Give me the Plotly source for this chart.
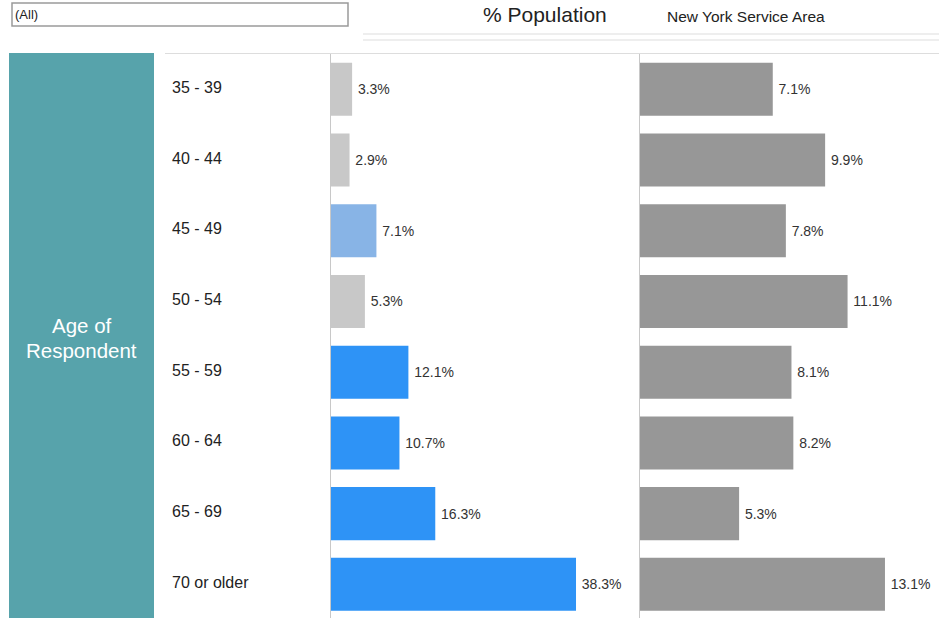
import plotly.graph_objects as go

categories = ["35 - 39", "40 - 44", "45 - 49", "50 - 54", "55 - 59", "60 - 64", "65 - 69", "70 or older"]
selected_pct = [3.3, 2.9, 7.1, 5.3, 12.1, 10.7, 16.3, 38.3]
selected_colors = ["#C8C8C8", "#C8C8C8", "#88B4E6", "#C8C8C8", "#2E93F6", "#2E93F6", "#2E93F6", "#2E93F6"]
area_pct = [7.1, 9.9, 7.8, 11.1, 8.1, 8.2, 5.3, 13.1]
area_color = "#979797"

W, H = 939, 618
FONT = "Liberation Sans, Arial, sans-serif"

def px(x):
    return x / W

def py(y):
    return 1 - y / H

fig = go.Figure()
fig.add_trace(go.Bar(
    y=categories, x=selected_pct, orientation="h",
    marker=dict(color=selected_colors, line=dict(width=0)),
    width=0.75,
    text=[f"\u2009{v:.1f}%" for v in selected_pct], textposition="outside",
    textfont=dict(size=14, color="#333333", family=FONT),
    cliponaxis=False, xaxis="x", yaxis="y", showlegend=False, hoverinfo="skip",
))
fig.add_trace(go.Bar(
    y=categories, x=area_pct, orientation="h",
    marker=dict(color=area_color, line=dict(width=0)),
    width=0.75,
    text=[f"\u2009{v:.1f}%" for v in area_pct], textposition="outside",
    textfont=dict(size=14, color="#333333", family=FONT),
    cliponaxis=False, xaxis="x2", yaxis="y2", showlegend=False, hoverinfo="skip",
))

ydom = [0, py(54)]
yrange = [-0.5 + (618 - 54) / 70.71, -0.5]

fig.update_layout(
    width=W, height=H,
    margin=dict(l=0, r=0, t=0, b=0),
    paper_bgcolor="white", plot_bgcolor="white",
    font=dict(family=FONT),
    uniformtext=dict(mode=False),
    xaxis=dict(domain=[px(331), px(640)], range=[0, 309 / 6.397], visible=False, fixedrange=True),
    xaxis2=dict(domain=[px(640), 1], range=[0, 299 / 18.7], visible=False, fixedrange=True),
    yaxis=dict(domain=ydom, range=yrange, type="category", anchor="x", showticklabels=False,
               ticks="", showgrid=False, showline=True, linecolor="#C8C8C8", linewidth=1,
               zeroline=False),
    yaxis2=dict(domain=ydom, range=yrange, type="category", anchor="x2", showticklabels=False,
                ticks="", showgrid=False, showline=True, linecolor="#C8C8C8", linewidth=1,
                zeroline=False),
    bargap=0.25,
)

shapes = [
    dict(type="rect", xref="paper", yref="paper", x0=px(12), x1=px(348), y0=py(26), y1=py(3),
         line=dict(color="#9A9A9A", width=1.5), fillcolor="white"),
    dict(type="line", xref="paper", yref="paper", x0=px(363), x1=1, y0=py(34), y1=py(34),
         line=dict(color="#DDDDDD", width=1)),
    dict(type="line", xref="paper", yref="paper", x0=px(363), x1=1, y0=py(40), y1=py(40),
         line=dict(color="#DDDDDD", width=1)),
    dict(type="line", xref="paper", yref="paper", x0=px(165), x1=1, y0=py(53.5), y1=py(53.5),
         line=dict(color="#DDDDDD", width=1)),
    dict(type="rect", xref="paper", yref="paper", x0=px(9), x1=px(154), y0=0, y1=py(53),
         line=dict(width=0), fillcolor="#57A3AB", layer="below"),
]
fig.update_layout(shapes=shapes)

annotations = [
    dict(text="(All)", xref="paper", yref="paper", x=px(13), y=py(14.5), xanchor="left", yanchor="middle",
         showarrow=False, font=dict(size=13, color="#222222", family=FONT)),
    dict(text="% Population", xref="paper", yref="paper", x=px(544.5), y=py(15), xanchor="center", yanchor="middle",
         showarrow=False, font=dict(size=21, color="#222222", family=FONT)),
    dict(text="New York Service Area", xref="paper", yref="paper", x=px(665), y=py(16), xanchor="left", yanchor="middle",
         showarrow=False, font=dict(size=15.5, color="#222222", family=FONT)),
    dict(text="Age of", xref="paper", yref="paper", x=px(81.5), y=py(325), xanchor="center", yanchor="middle",
         showarrow=False, font=dict(size=20.5, color="white", family=FONT)),
    dict(text="Respondent", xref="paper", yref="paper", x=px(81.5), y=py(350), xanchor="center", yanchor="middle",
         showarrow=False, font=dict(size=20.5, color="white", family=FONT)),
]
for c in categories:
    annotations.append(dict(text=c, xref="paper", yref="y", x=px(170), y=c, xanchor="left", yanchor="middle",
                            showarrow=False, yshift=2, font=dict(size=16, color="#222222", family=FONT)))
fig.update_layout(annotations=annotations)

fig.write_html("out.html")
